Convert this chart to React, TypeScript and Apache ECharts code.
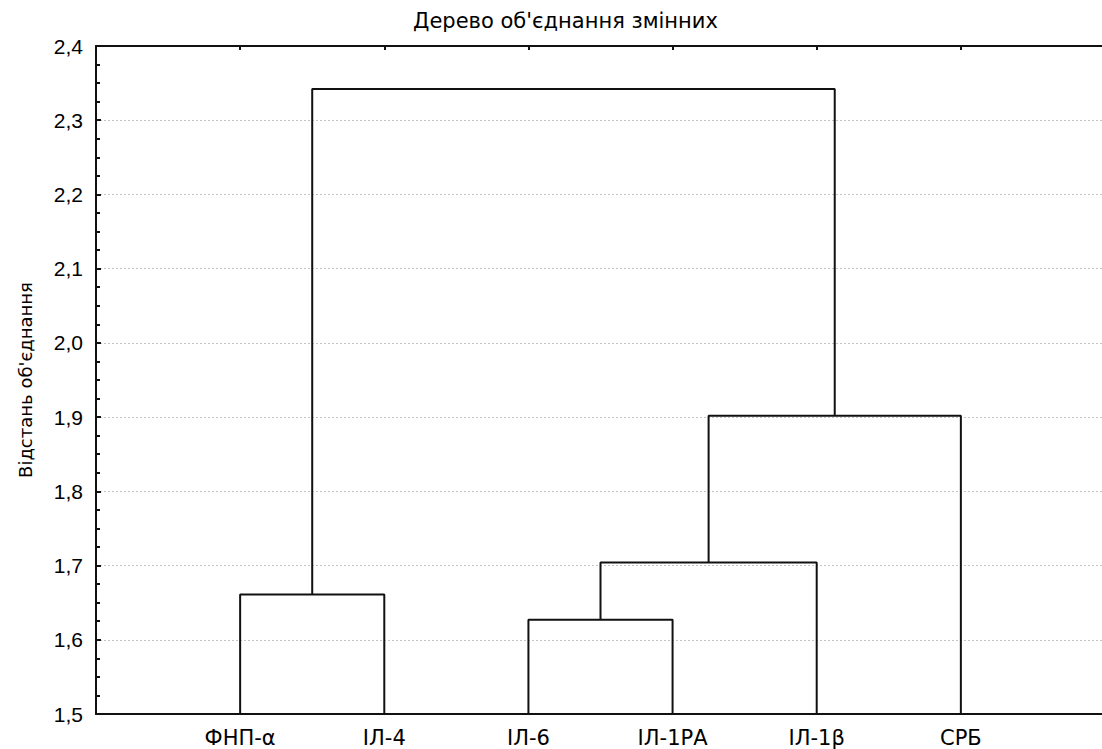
import React, { useEffect, useRef } from "react";
import * as echarts from "echarts";

// Leaves of the dendrogram, in drawing order (x = 1..6)
const leaves = ["ФНП-α", "ІЛ-4", "ІЛ-6", "ІЛ-1РА", "ІЛ-1β", "СРБ"];

// Agglomeration steps: node ids 0..5 are leaves, each step creates a new node 6, 7, ...
const mergeLeft = [2, 0, 6, 8, 7];
const mergeRight = [3, 1, 4, 5, 9];
const mergeHeights = [1.627, 1.661, 1.704, 1.902, 2.342];

const yTicks = [1.5, 1.6, 1.7, 1.8, 1.9, 2.0, 2.1, 2.2, 2.3, 2.4];

const SANS = "'Liberation Sans', Arial, sans-serif";
const WIDE = "'DejaVu Sans', Verdana, sans-serif";
const INK = "#111";

function buildLinks() {
  const pos: number[] = leaves.map((_, i) => i + 1);
  const height: number[] = leaves.map(() => yTicks[0]);
  const links: number[][][] = [];
  mergeHeights.forEach((h, k) => {
    const a = mergeLeft[k];
    const b = mergeRight[k];
    links.push([
      [pos[a], height[a]],
      [pos[a], h],
      [pos[b], h],
      [pos[b], height[b]],
    ]);
    pos.push((pos[a] + pos[b]) / 2);
    height.push(h);
  });
  return links;
}

export default function App() {
  const ref = useRef<HTMLDivElement>(null);

  useEffect(() => {
    if (!ref.current) return;
    document.body.style.overflow = "hidden";
    const chart = echarts.init(ref.current, undefined, { renderer: "svg" });
    const links = buildLinks();

    const leafLabel = (v: number) =>
      Number.isInteger(v) && v >= 1 && v <= leaves.length ? leaves[v - 1] : "";

    chart.setOption({
      animation: false,
      backgroundColor: "#fff",
      title: {
        text: "Дерево об'єднання змінних",
        left: 408,
        top: 5,
        textStyle: { fontFamily: WIDE, fontSize: 21, fontWeight: "normal", color: "#000" },
      },
      // the frame spans x = 0..n+1; its right edge sits just outside the visible page
      grid: { show: false, left: 96, right: 0, top: 46, bottom: 35, containLabel: false },
      xAxis: [
        {
          type: "value",
          position: "bottom",
          min: 0,
          max: leaves.length + 1,
          interval: 1,
          axisLine: { show: true, onZero: false, lineStyle: { color: INK, width: 2 } },
          axisTick: { show: false },
          splitLine: { show: false },
          axisLabel: {
            margin: 13,
            fontFamily: WIDE,
            fontSize: 21,
            color: "#000",
            formatter: leafLabel,
          },
        },
        {
          type: "value",
          position: "top",
          min: 0,
          max: leaves.length + 1,
          interval: 1,
          axisLine: { show: true, onZero: false, lineStyle: { color: INK, width: 2 } },
          axisTick: { show: true, inside: true, length: 4, lineStyle: { color: INK, width: 2 } },
          splitLine: { show: false },
          axisLabel: { show: false },
        },
      ],
      yAxis: {
        type: "value",
        min: yTicks[0],
        max: yTicks[yTicks.length - 1],
        interval: 0.1,
        name: "Відстань об'єднання",
        nameLocation: "middle",
        nameGap: 62,
        nameTextStyle: { fontFamily: WIDE, fontSize: 18, color: "#000" },
        axisLine: { show: true, onZero: false, lineStyle: { color: INK, width: 2 } },
        axisTick: { show: true, inside: true, length: 5, lineStyle: { color: INK, width: 2 } },
        minorTick: { show: true, splitNumber: 4, length: 4, lineStyle: { color: INK, width: 2 } },
        splitLine: { show: true, lineStyle: { color: "#c4c4c4", type: [2, 2], width: 1 } },
        axisLabel: {
          margin: 13,
          fontFamily: SANS,
          fontSize: 21,
          color: "#000",
          formatter: (v: number) => v.toFixed(1).replace(".", ","),
        },
      },
      series: links.map((pts) => ({
        type: "line",
        xAxisIndex: 0,
        data: pts,
        symbol: "none",
        silent: true,
        lineStyle: { color: INK, width: 2 },
      })),
    });

    return () => chart.dispose();
  }, []);

  return (
    <div
      ref={ref}
      style={{ position: "fixed", left: 0, top: 0, width: 1108, height: 749, background: "#fff" }}
    />
  );
}
